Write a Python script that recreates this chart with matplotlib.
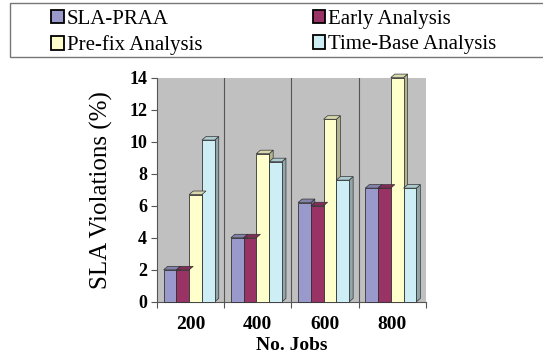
import matplotlib.pyplot as plt
import numpy as np
from matplotlib.patches import Polygon, Patch, Rectangle
import matplotlib.colors as mcolors

plt.rcParams['font.family'] = ['Liberation Serif', 'DejaVu Serif']

jobs = ['200', '400', '600', '800']
series = ['SLA-PRAA', 'Early Analysis', 'Pre-fix Analysis', 'Time-Base Analysis']
sla_praa = [2.0, 4.0, 6.2, 7.1]
early = [2.0, 4.0, 6.0, 7.1]
prefix = [6.7, 9.25, 11.4, 14.0]
timebase = [10.1, 8.75, 7.6, 7.1]
colors = ['#9999cc', '#993366', '#ffffcc', '#cceef4']

values = [sla_praa, early, prefix, timebase]

fig = plt.figure(figsize=[5.43, 3.56], dpi=100)
ax = fig.add_axes([0.289, 0.152, 0.495, 0.63])
ax.set_facecolor('#c0c0c0')
ax.set_xlim(0, 4)
ax.set_ylim(0, 14)

def shade(c, f):
    r, g, b = mcolors.to_rgb(c)
    return (r * f, g * f, b * f)

bw = 0.19
start = 0.1
dx, dy = 0.06, 0.22
x = np.arange(len(jobs))
for i, (vals, c) in enumerate(zip(values, colors)):
    xs = x + start + i * bw
    ax.bar(xs, vals, width=bw, align='edge', color=c, edgecolor='#333333',
           linewidth=0.6, zorder=3, clip_on=False)
    for x0, v in zip(xs, vals):
        side = [(x0 + bw, 0), (x0 + bw + dx, dy), (x0 + bw + dx, v + dy), (x0 + bw, v)]
        top = [(x0, v), (x0 + dx, v + dy), (x0 + bw + dx, v + dy), (x0 + bw, v)]
        ax.add_patch(Polygon(side, closed=True, facecolor=shade(c, 0.7),
                             edgecolor='#333333', linewidth=0.5, zorder=2.9, clip_on=False))
        ax.add_patch(Polygon(top, closed=True, facecolor=shade(c, 0.85),
                             edgecolor='#333333', linewidth=0.5, zorder=3.1, clip_on=False))

for b in [1, 2, 3]:
    ax.axvline(b, color='#555555', linewidth=0.8, zorder=1)

ax.set_yticks(range(0, 15, 2))
ax.set_xticks([0, 1, 2, 3, 4])
ax.set_xticklabels([])
ax.set_xticks(x + 0.5, minor=True)
ax.set_xticklabels(jobs, minor=True, fontsize=14, fontweight='bold')
ax.tick_params(axis='x', which='minor', length=0, pad=10)
ax.tick_params(axis='x', which='major', length=4, color='#555555')
ax.tick_params(axis='y', labelsize=13, length=4, color='#555555', pad=3)
for t in ax.get_yticklabels():
    t.set_fontweight('bold')
for s in ['top', 'right']:
    ax.spines[s].set_visible(False)
ax.spines['left'].set_color('#555555')
ax.spines['bottom'].set_color('#555555')

ax.set_ylabel('SLA Violations (%)', fontsize=18, labelpad=12)
ax.set_xlabel('No. Jobs', fontsize=14, fontweight='bold', labelpad=3)

# legend frame
fig.add_artist(Rectangle((10 / 543, 1 - 57 / 356), 1.0, 54 / 356, transform=fig.transFigure,
                         facecolor='white', edgecolor='#777777', linewidth=1.0))
handles = [Patch(facecolor=c, edgecolor='black', linewidth=1.3) for c in colors]
order = [0, 2, 1, 3]
fig.legend([handles[k] for k in order], [series[k] for k in order],
           loc='upper left', bbox_to_anchor=(49 / 543, 1 - 8 / 356),
           ncol=2, fontsize=15, handlelength=0.6, handleheight=0.6, handletextpad=0.15,
           borderpad=0.1, labelspacing=0.3, columnspacing=5.3, frameon=False,
           borderaxespad=0)

plt.savefig('out.png', dpi=100)
